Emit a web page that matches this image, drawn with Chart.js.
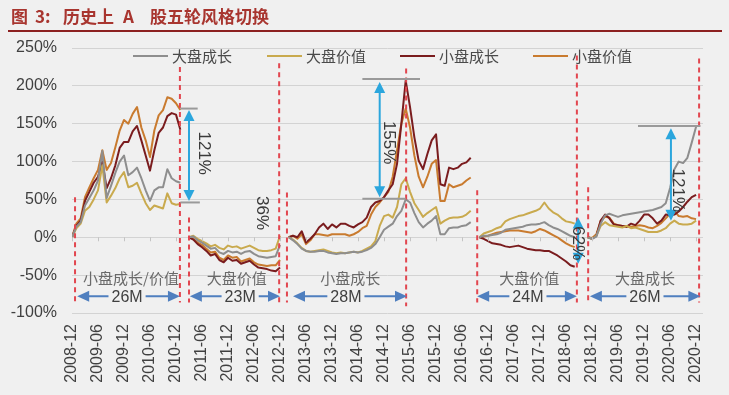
<!DOCTYPE html>
<html>
<head>
<meta charset="utf-8">
<script src="https://cdn.jsdelivr.net/npm/chart.js@4/dist/chart.umd.min.js"></script>
<style>
    html, body { margin: 0; padding: 0; background: #f0f0f0; }
    #wrap { width: 729px; height: 395px; }
</style>
</head>
<body>
<div id="wrap"><canvas id="styleChart" width="729" height="395"></canvas></div>
<script>
// ─── Data (monthly, % return since start of each style phase) ───
const tickLabels = ['2008-12', '2009-06', '2009-12', '2010-06', '2010-12', '2011-06', '2011-12',
    '2012-06', '2012-12', '2013-06', '2013-12', '2014-06', '2014-12', '2015-06', '2015-12',
    '2016-06', '2016-12', '2017-06', '2017-12', '2018-06', '2018-12', '2019-06', '2019-12',
    '2020-06', '2020-12'];

// month index (0 = 2008-12) where each phase starts
const segStart = [0, 27, 50, 94, 119];

const seriesNames = ['大盘成长', '大盘价值', '小盘成长', '小盘价值'];

const bigGrowth = [
    [0, 14, 20, 42, 52, 62, 75, 114, 52, 68, 85, 100, 108, 82, 86, 92, 78, 62, 48, 62, 66, 66, 90, 78, 74, 72],
    [0, 1, -4, -7, -11, -15, -14, -20, -22, -18, -20, -19, -22, -19, -18, -22, -25, -26, -27, -26, -25, -10],
    [0, -4, -9, -15, -18, -19, -19, -18, -18, -20, -21, -22, -21, -21, -20, -19, -20, -19, -17, -14,
        -9, 0, 10, 14, 18, 28, 35, 50, 46, 32, 20, 13, 18, 22, 28, 4, 4, 12, 13, 13, 15, 16, 20],
    [0, 2, 2, 3, 4, 6, 10, 11, 12, 13, 14, 16, 17, 17, 18, 20, 16, 13, 11, 8, 5, 2, 0],
    [0, -2, 1, 18, 29, 31, 29, 27, 29, 30, 31, 32, 33, 34, 35, 36, 38, 40, 45, 65, 90, 100, 98, 105, 125, 146],
];
const bigValue = [
    [0, 12, 18, 35, 40, 50, 62, 95, 46, 55, 65, 78, 86, 66, 68, 72, 58, 45, 36, 42, 40, 38, 58, 45, 43, 44],
    [0, 2, -2, -5, -8, -12, -10, -14, -16, -11, -13, -12, -15, -13, -11, -14, -17, -18, -18, -17, -15, 2],
    [0, -3, -8, -14, -18, -19, -18, -17, -16, -18, -20, -21, -20, -21, -20, -19, -20, -18, -15, -12,
        -5, 15, 28, 30, 26, 40, 70, 78, 60, 45, 36, 27, 32, 36, 40, 18, 22, 25, 26, 26, 27, 30, 35],
    [0, 5, 7, 9, 12, 14, 21, 24, 26, 28, 29, 31, 33, 35, 38, 46, 38, 33, 30, 25, 21, 20, 18],
    [0, -2, 2, 15, 20, 16, 15, 14, 13, 15, 12, 13, 11, 9, 7, 7, 7, 9, 12, 18, 22, 18, 17, 17, 18, 22],
];
const smallGrowth = [
    [0, 15, 22, 48, 60, 72, 80, 100, 65, 78, 95, 118, 126, 126, 140, 147, 128, 108, 88, 115, 138, 145, 160, 164, 162, 142],
    [0, -3, -9, -13, -18, -24, -22, -30, -33, -27, -31, -30, -35, -33, -31, -36, -40, -41, -42, -44, -45, -40],
    [0, 2, 0, 8, -7, -2, 4, 13, 18, 11, 17, 13, 18, 18, 15, 13, 17, 20, 26, 40,
        46, 48, 53, 62, 70, 97, 150, 207, 172, 132, 101, 90, 110, 128, 136, 70, 68, 92, 90, 92, 97, 99, 105],
    [0, -2, -5, -8, -9, -10, -12, -13, -12, -11, -13, -15, -16, -17, -17, -18, -18, -21, -24, -28, -32, -37, -39],
    [0, -2, 2, 22, 30, 25, 17, 16, 15, 14, 18, 16, 22, 30, 30, 25, 18, 22, 30, 29, 30, 34, 40, 47, 53, 56],
];
const smallValue = [
    [0, 18, 25, 53, 66, 78, 89, 115, 89, 98, 119, 141, 155, 150, 163, 172, 145, 128, 106, 141, 161, 168, 185, 183, 177, 168],
    [0, -2, -7, -10, -15, -20, -19, -27, -30, -24, -27, -26, -32, -30, -28, -33, -36, -37, -38, -37, -37, -30],
    [0, 2, -2, 4, -9, -4, 4, 4, 3, 2, 4, 4, 4, 4, 2, 4, 7, 12, 15, 30,
        40, 46, 53, 60, 80, 115, 150, 170, 145, 108, 80, 66, 80, 97, 102, 48, 48, 70, 66, 68, 70, 75, 79],
    [0, 1, 2, 4, 6, 7, 8, 9, 9, 9, 8, 7, 6, 8, 11, 9, 6, 3, 0, -4, -8, -11, -13],
    [0, -1, 4, 22, 27, 26, 18, 16, 15, 14, 14, 15, 16, 15, 13, 12, 15, 19, 25, 31, 35, 28, 27, 28, 25, 24],
];

// ─── Annotations (month index, % value) ───
const dividers = [[0.7, 53, -86], [24.9, 225, -86], [27, 26, -86], [47.8, 230, -86], [49.6, 59, -86],
    [77.1, 223, -91], [93.5, 62, -86], [116.5, 240, -86], [119.1, 66, -86], [144.7, 236, -86]];
const levelLines = [[25, 29, 170], [25, 29.5, 46], [67, 80.3, 209], [67, 77, 51], [130.6, 145, 147]];
const gapArrows = [[27, 168, 48], [71, 205, 53], [116.8, 26, -35], [138.2, 144, 22]];
const gapLabels = [['121%', 30.5, 111], ['36%', 43.8, 32], ['155%', 73, 125], ['62%', 116.8, -8], ['121%', 139.8, 62]];
const styleNames = [['小盘成长/价值', 13.6], ['大盘价值', 38], ['小盘成长', 64.2], ['大盘价值', 105.5], ['大盘成长', 132.2]];
const spans = [['26M', 1.2, 24.9, 12.7], ['23M', 27.2, 48, 38.8], ['28M', 51, 77.3, 63.2],
    ['24M', 93.5, 116.5, 105.2], ['26M', 119.5, 145, 132.2]];

const colors = ['#8e8e8e', '#c9aa4e', '#7a1c1e', '#c97b2f'];
const LATIN = "'Liberation Sans', Arial, sans-serif";
const CJK = "'Noto Sans CJK SC', sans-serif";

function toPoints(segs) {
    const pts = [];
    segs.forEach((seg, k) => {
        if (k > 0) pts.push({ x: segStart[k] - 1, y: null });
        seg.forEach((v, i) => pts.push({ x: segStart[k] + i, y: v }));
    });
    return pts;
}

function head(ctx, x, y, angle, len, half) {
    ctx.save();
    ctx.translate(x, y);
    ctx.rotate(angle);
    ctx.beginPath();
    ctx.moveTo(0, 0);
    ctx.lineTo(-len, -half);
    ctx.lineTo(-len, half);
    ctx.closePath();
    ctx.fill();
    ctx.restore();
}

const decorations = {
    id: 'decorations',
    beforeDraw(chart) {
        const { ctx } = chart;
        ctx.save();
        ctx.fillStyle = '#f0f0f0';
        ctx.fillRect(0, 0, chart.width, chart.height);
        ctx.restore();
    },
    afterDatasetsDraw(chart) {
        const { ctx, scales: { x, y } } = chart;
        ctx.save();

        // small tick marks on the 0% line
        const y0 = y.getPixelForValue(0);
        ctx.strokeStyle = '#c4c4c4';
        ctx.lineWidth = 1;
        tickLabels.forEach((_, i) => {
            const px = Math.round(x.getPixelForValue(i * 6)) + 0.5;
            ctx.beginPath();
            ctx.moveTo(px, y0);
            ctx.lineTo(px, y0 + 4);
            ctx.stroke();
        });

        // phase dividers
        ctx.strokeStyle = '#e2464f';
        ctx.lineWidth = 2;
        ctx.setLineDash([5, 4]);
        dividers.forEach(([m, top, bot]) => {
            const px = x.getPixelForValue(m);
            ctx.beginPath();
            ctx.moveTo(px, y.getPixelForValue(top));
            ctx.lineTo(px, y.getPixelForValue(bot));
            ctx.stroke();
        });
        ctx.setLineDash([]);

        // level marks
        ctx.strokeStyle = '#9a9a9a';
        ctx.lineWidth = 2;
        levelLines.forEach(([m1, m2, v]) => {
            const py = y.getPixelForValue(v);
            ctx.beginPath();
            ctx.moveTo(x.getPixelForValue(m1), py);
            ctx.lineTo(x.getPixelForValue(m2), py);
            ctx.stroke();
        });

        // blue gap arrows
        ctx.strokeStyle = '#2ba6dd';
        ctx.fillStyle = '#2ba6dd';
        gapArrows.forEach(([m, v1, v2]) => {
            const px = x.getPixelForValue(m);
            const p1 = y.getPixelForValue(v1);
            const p2 = y.getPixelForValue(v2);
            ctx.beginPath();
            ctx.moveTo(px, p1 + 6);
            ctx.lineTo(px, p2 - 6);
            ctx.stroke();
            head(ctx, px, p1, -Math.PI / 2, 11, 5.5);
            head(ctx, px, p2, Math.PI / 2, 11, 5.5);
        });

        // rotated gap labels
        ctx.fillStyle = '#3a3a3a';
        ctx.font = `17px ${LATIN}`;
        ctx.textAlign = 'center';
        ctx.textBaseline = 'middle';
        gapLabels.forEach(([t, m, v]) => {
            ctx.save();
            ctx.translate(x.getPixelForValue(m), y.getPixelForValue(v));
            ctx.rotate(Math.PI / 2);
            ctx.fillText(t, 0, 0);
            ctx.restore();
        });

        // phase names
        ctx.fillStyle = '#6a6a6a';
        ctx.font = `15px ${CJK}`;
        styleNames.forEach(([t, m]) => {
            ctx.fillText(t, x.getPixelForValue(m), y.getPixelForValue(-54));
        });

        // duration arrows
        const py = y.getPixelForValue(-78);
        ctx.font = `16px ${LATIN}`;
        spans.forEach(([t, m1, m2, mt]) => {
            const a = x.getPixelForValue(m1);
            const b = x.getPixelForValue(m2);
            const c = x.getPixelForValue(mt);
            const w = ctx.measureText(t).width / 2 + 3;
            ctx.strokeStyle = '#4f7fbf';
            ctx.fillStyle = '#4f7fbf';
            ctx.lineWidth = 2;
            ctx.beginPath();
            ctx.moveTo(a + 8, py);
            ctx.lineTo(c - w, py);
            ctx.moveTo(c + w, py);
            ctx.lineTo(b - 8, py);
            ctx.stroke();
            head(ctx, a, py, Math.PI, 12, 5.5);
            head(ctx, b, py, 0, 12, 5.5);
            ctx.fillStyle = '#404040';
            ctx.fillText(t, c, py + 1);
        });

        ctx.restore();
    },
    afterDraw(chart) {
        const { ctx } = chart;
        ctx.save();

        // title
        ctx.fillStyle = '#a8352f';
        ctx.font = `bold 17px ${CJK}`;
        ctx.textBaseline = 'middle';
        ctx.textAlign = 'left';
        ctx.fillText('图', 11, 17);
        ctx.fillText('3:', 35, 17);
        ctx.fillText('历史上', 63, 17);
        ctx.fillText('A', 123, 17);
        ctx.fillText('股五轮风格切换', 150, 17);
        ctx.strokeStyle = '#8c2020';
        ctx.lineWidth = 2;
        ctx.beginPath();
        ctx.moveTo(8, 31);
        ctx.lineTo(722, 31);
        ctx.stroke();

        // legend
        const lx = [133, 267, 400, 533];
        ctx.font = `15px ${CJK}`;
        chart.data.datasets.forEach((ds, i) => {
            ctx.strokeStyle = ds.borderColor;
            ctx.lineWidth = 2;
            ctx.beginPath();
            ctx.moveTo(lx[i], 56);
            ctx.lineTo(lx[i] + 35, 56);
            ctx.stroke();
            ctx.fillStyle = '#4a4a4a';
            ctx.fillText(ds.label, lx[i] + 39, 56);
        });
        ctx.restore();
    },
};

const ctx = document.getElementById('styleChart');
new Chart(ctx, {
    type: 'line',
    data: {
        datasets: [bigGrowth, bigValue, smallGrowth, smallValue].map((s, i) => ({
            label: seriesNames[i],
            data: toPoints(s),
            borderColor: colors[i],
            backgroundColor: colors[i],
            borderWidth: 2,
            pointRadius: 0,
            tension: 0,
            spanGaps: false,
            borderJoinStyle: 'round',
        })),
    },
    options: {
        responsive: false,
        animation: false,
        layout: { padding: { top: 48, right: 26, left: 0, bottom: 0 } },
        plugins: {
            legend: { display: false },
            tooltip: { enabled: false },
        },
        scales: {
            x: {
                type: 'linear',
                min: 0,
                max: 145.6,
                afterBuildTicks: (s) => { s.ticks = tickLabels.map((_, i) => ({ value: i * 6 })); },
                afterFit: (s) => { s.height = 82; },
                grid: { display: false },
                border: { display: false },
                ticks: {
                    autoSkip: false,
                    minRotation: 90,
                    maxRotation: 90,
                    padding: 3,
                    color: '#404040',
                    font: { family: LATIN, size: 16 },
                    callback: (v) => tickLabels[Math.round(v / 6)],
                },
            },
            y: {
                min: -100,
                max: 250,
                afterFit: (s) => { s.width = 72; },
                grid: { color: '#d3d3d3', drawTicks: false },
                border: { display: false },
                ticks: {
                    stepSize: 50,
                    padding: 15,
                    color: '#404040',
                    font: { family: LATIN, size: 16 },
                    callback: (v) => v + '%',
                },
            },
        },
    },
    plugins: [decorations],
});
</script>
</body>
</html>
